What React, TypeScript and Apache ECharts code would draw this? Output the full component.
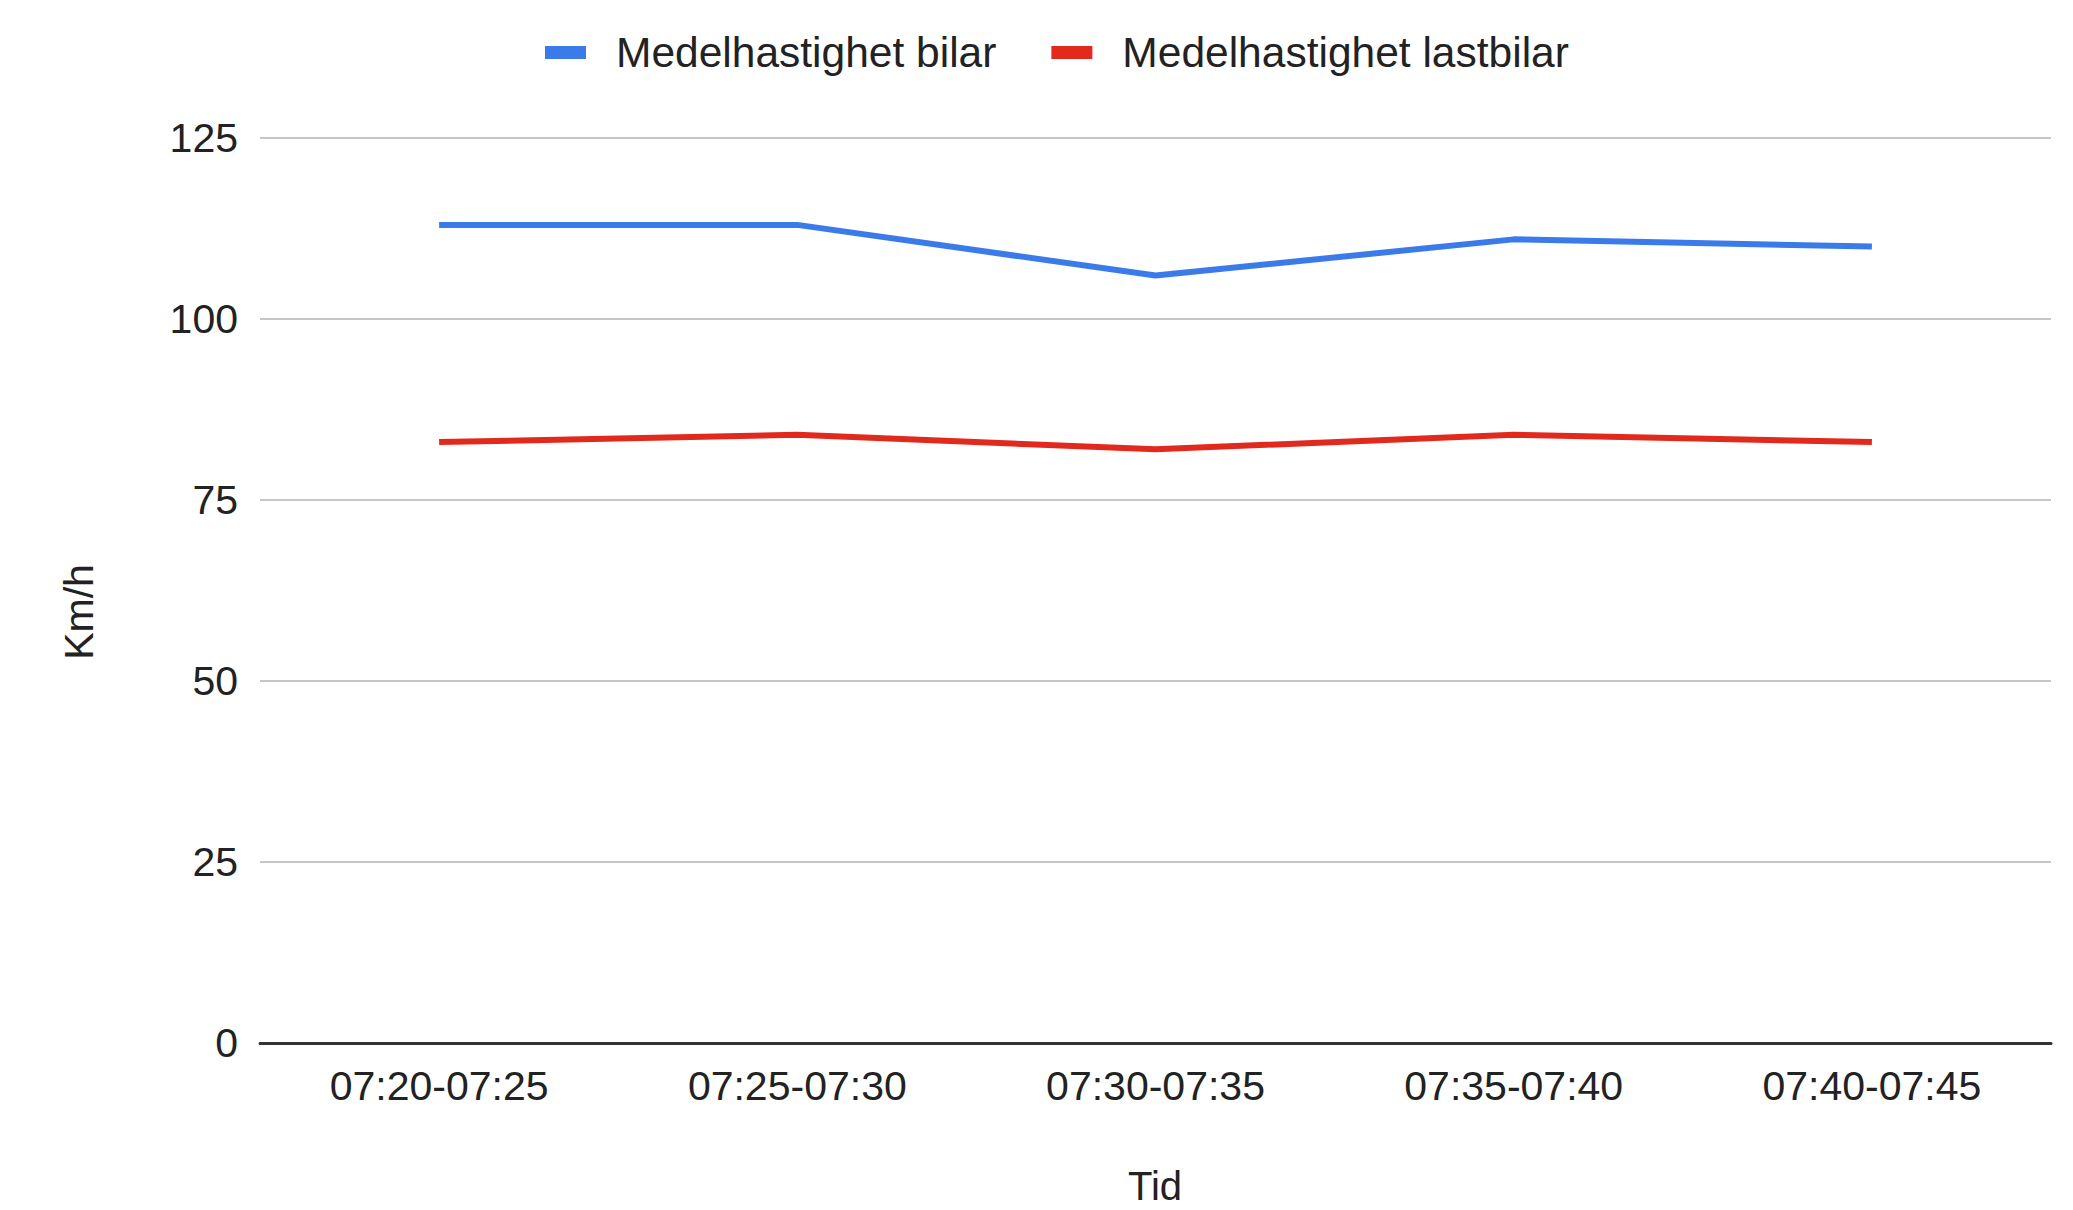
import React, { useEffect, useRef } from "react";
import * as echarts from "echarts";

const categories = ["07:20-07:25", "07:25-07:30", "07:30-07:35", "07:35-07:40", "07:40-07:45"];
const carSpeed = [113, 113, 106, 111, 110];
const truckSpeed = [83, 84, 82, 84, 83];
const seriesNames = ["Medelhastighet bilar", "Medelhastighet lastbilar"];
const yAxisTitle = "Km/h";
const xAxisTitle = "Tid";

const BLUE = "#3b7be9";
const RED = "#e2291e";
const FONT = "'Liberation Sans', Arial, sans-serif";
const TXT = "#222222";

export default function App() {
  const ref = useRef<HTMLDivElement>(null);
  useEffect(() => {
    if (!ref.current) return;
    const chart = echarts.init(ref.current, null, { renderer: "svg" });
    chart.setOption({
      animation: false,
      backgroundColor: "#ffffff",
      textStyle: { fontFamily: FONT },
      legend: {
        left: 540,
        top: 26,
        icon: "rect",
        itemWidth: 41,
        itemHeight: 13,
        itemGap: 55,
        textStyle: { fontSize: 42.5, color: TXT, fontFamily: FONT, padding: [0, 0, 0, 25] },
        data: seriesNames,
      },
      grid: { left: 260, right: 22, top: 138, bottom: 167, containLabel: false },
      xAxis: {
        type: "category",
        data: categories,
        boundaryGap: true,
        axisLine: { lineStyle: { color: "#333333", width: 3 } },
        axisTick: { show: false },
        axisLabel: { fontSize: 41, color: TXT, fontFamily: FONT, margin: 22 },
        splitLine: { show: false },
      },
      yAxis: {
        type: "value",
        min: 0,
        max: 125,
        interval: 25,
        axisLine: { show: false },
        axisTick: { show: false },
        axisLabel: { fontSize: 41, color: TXT, fontFamily: FONT, margin: 22 },
        splitLine: { lineStyle: { color: "#c6c6c6", width: 2 } },
      },
      graphic: [
        {
          type: "text",
          x: 79,
          y: 612,
          rotation: Math.PI / 2,
          style: {
            text: yAxisTitle,
            fontSize: 41,
            fill: TXT,
            fontFamily: FONT,
            align: "center",
            verticalAlign: "middle",
          },
        },
        {
          type: "text",
          x: 1155,
          y: 1186,
          style: {
            text: xAxisTitle,
            fontSize: 40,
            fill: TXT,
            fontFamily: FONT,
            align: "center",
            verticalAlign: "middle",
          },
        },
      ],
      series: [
        {
          name: seriesNames[0],
          type: "line",
          data: carSpeed,
          showSymbol: false,
          symbol: "none",
          lineStyle: { color: BLUE, width: 6 },
          itemStyle: { color: BLUE },
        },
        {
          name: seriesNames[1],
          type: "line",
          data: truckSpeed,
          showSymbol: false,
          symbol: "none",
          lineStyle: { color: RED, width: 6 },
          itemStyle: { color: RED },
        },
      ],
    });
    return () => chart.dispose();
  }, []);
  return (
    <div
      ref={ref}
      style={{ position: "fixed", left: 0, top: 0, width: 2073, height: 1210 }}
    />
  );
}
